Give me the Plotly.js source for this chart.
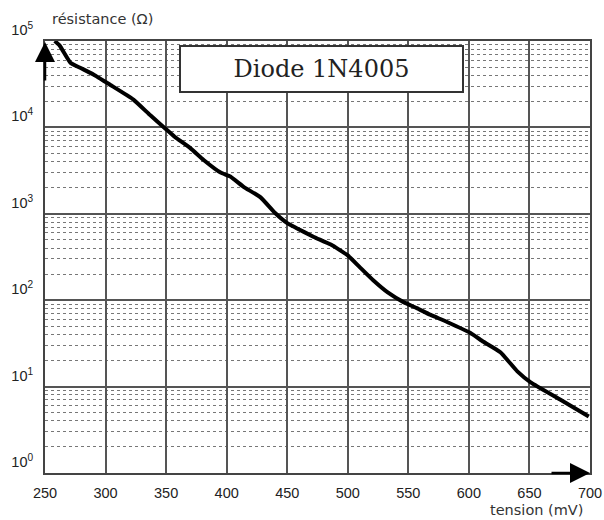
<!DOCTYPE html>
<html>
<head>
<meta charset="utf-8">
<script src="https://cdn.plot.ly/plotly-3.0.1.min.js"></script>
<style>html,body{margin:0;padding:0;background:#fff;}#chart{width:604px;height:520px;}</style>
</head>
<body>
<div id="chart"></div>
<script>
// tension (mV)
const tension = [258, 262, 271, 279, 290, 304, 323, 337, 349, 357, 370, 381, 395, 403, 414, 428, 440, 450, 457, 472, 486, 500, 510, 521, 533, 546, 557, 568, 582, 601, 612, 626, 640, 651, 676, 699];
// résistance (ohm)
const resistance = [100000, 89000, 56000, 49000, 41000, 31000, 21000, 13800, 9800, 7800, 5750, 4200, 3000, 2700, 2050, 1550, 1020, 780, 690, 540, 440, 330, 240, 170, 123, 95, 81, 68, 56, 42, 33, 25, 15, 11.2, 7.0, 4.5];

const xTickVals = [250, 300, 350, 400, 450, 500, 550, 600, 650, 700];
const xTickText = ['250', '300', '350', '400', '450', '500', '550', '600', '650', '700'];
const yTickVals = [1, 10, 100, 1000, 10000, 100000];
const yTickText = ['10<sup>0</sup>', '10<sup>1</sup>', '10<sup>2</sup>', '10<sup>3</sup>', '10<sup>4</sup>', '10<sup>5</sup>'];

const titleText = 'Diode 1N4005';
const yTitle = 'résistance (Ω)';
const xTitle = 'tension (mV)';

const trace = {
  x: tension,
  y: resistance,
  type: 'scatter',
  mode: 'lines',
  line: {color: '#000', width: 4, shape: 'spline', smoothing: 0.4},
  hoverinfo: 'skip'
};

const tickFont = {family: 'Liberation Sans Narrow, Liberation Sans, Arial, sans-serif', size: 14.5, color: '#222'};

const layout = {
  width: 604,
  height: 520,
  margin: {l: 45, r: 14, t: 41, b: 47},
  paper_bgcolor: '#fff',
  plot_bgcolor: '#fff',
  showlegend: false,
  xaxis: {
    range: [250, 700],
    tickvals: xTickVals,
    ticktext: xTickText,
    showgrid: true,
    gridcolor: '#555',
    gridwidth: 2,
    showline: true,
    linecolor: '#444',
    linewidth: 2,
    mirror: true,
    ticks: '',
    ticklabelstandoff: 6,
    zeroline: false,
    tickfont: tickFont
  },
  yaxis: {
    type: 'log',
    range: [0, 5],
    tickvals: yTickVals,
    ticktext: yTickText,
    showgrid: true,
    gridcolor: '#555',
    gridwidth: 2,
    showline: true,
    linecolor: '#444',
    linewidth: 2,
    mirror: true,
    ticks: '',
    ticklabelshift: -11,
    ticklabelstandoff: 7,
    zeroline: false,
    tickfont: tickFont,
    minor: {dtick: 'D1', showgrid: true, gridcolor: '#777', gridwidth: 1, griddash: 'dot', ticks: ''}
  },
  annotations: [
    {
      xref: 'paper', yref: 'paper', x: 0.508, y: 0.935,
      xanchor: 'center', yanchor: 'middle',
      text: titleText, showarrow: false,
      font: {family: 'DejaVu Serif, serif', size: 24, color: '#222'},
      bgcolor: '#fff', bordercolor: '#333', borderwidth: 2,
      width: 279, height: 42
    },
    {
      xref: 'paper', yref: 'paper', x: 0.01, y: 1, yshift: 12,
      xanchor: 'left', yanchor: 'bottom',
      text: yTitle, showarrow: false,
      font: {family: 'DejaVu Sans, sans-serif', size: 14.5, color: '#333'}
    },
    {
      xref: 'paper', yref: 'paper', x: 0.99, y: 0, yshift: -27,
      xanchor: 'right', yanchor: 'top',
      text: xTitle, showarrow: false,
      font: {family: 'DejaVu Sans, sans-serif', size: 14.5, color: '#333'}
    },
    {
      xref: 'paper', yref: 'paper', x: 0, y: 1, yshift: -1,
      ax: 0, ay: 40, text: '', showarrow: true,
      arrowhead: 2, arrowsize: 1.6, arrowwidth: 2.5, arrowcolor: '#000'
    },
    {
      xref: 'paper', yref: 'paper', x: 1, y: 0,
      ax: -40, ay: 0, text: '', showarrow: true,
      arrowhead: 2, arrowsize: 1.6, arrowwidth: 2.5, arrowcolor: '#000'
    }
  ]
};

Plotly.newPlot('chart', [trace], layout, {staticPlot: true, displayModeBar: false});
</script>
</body>
</html>
